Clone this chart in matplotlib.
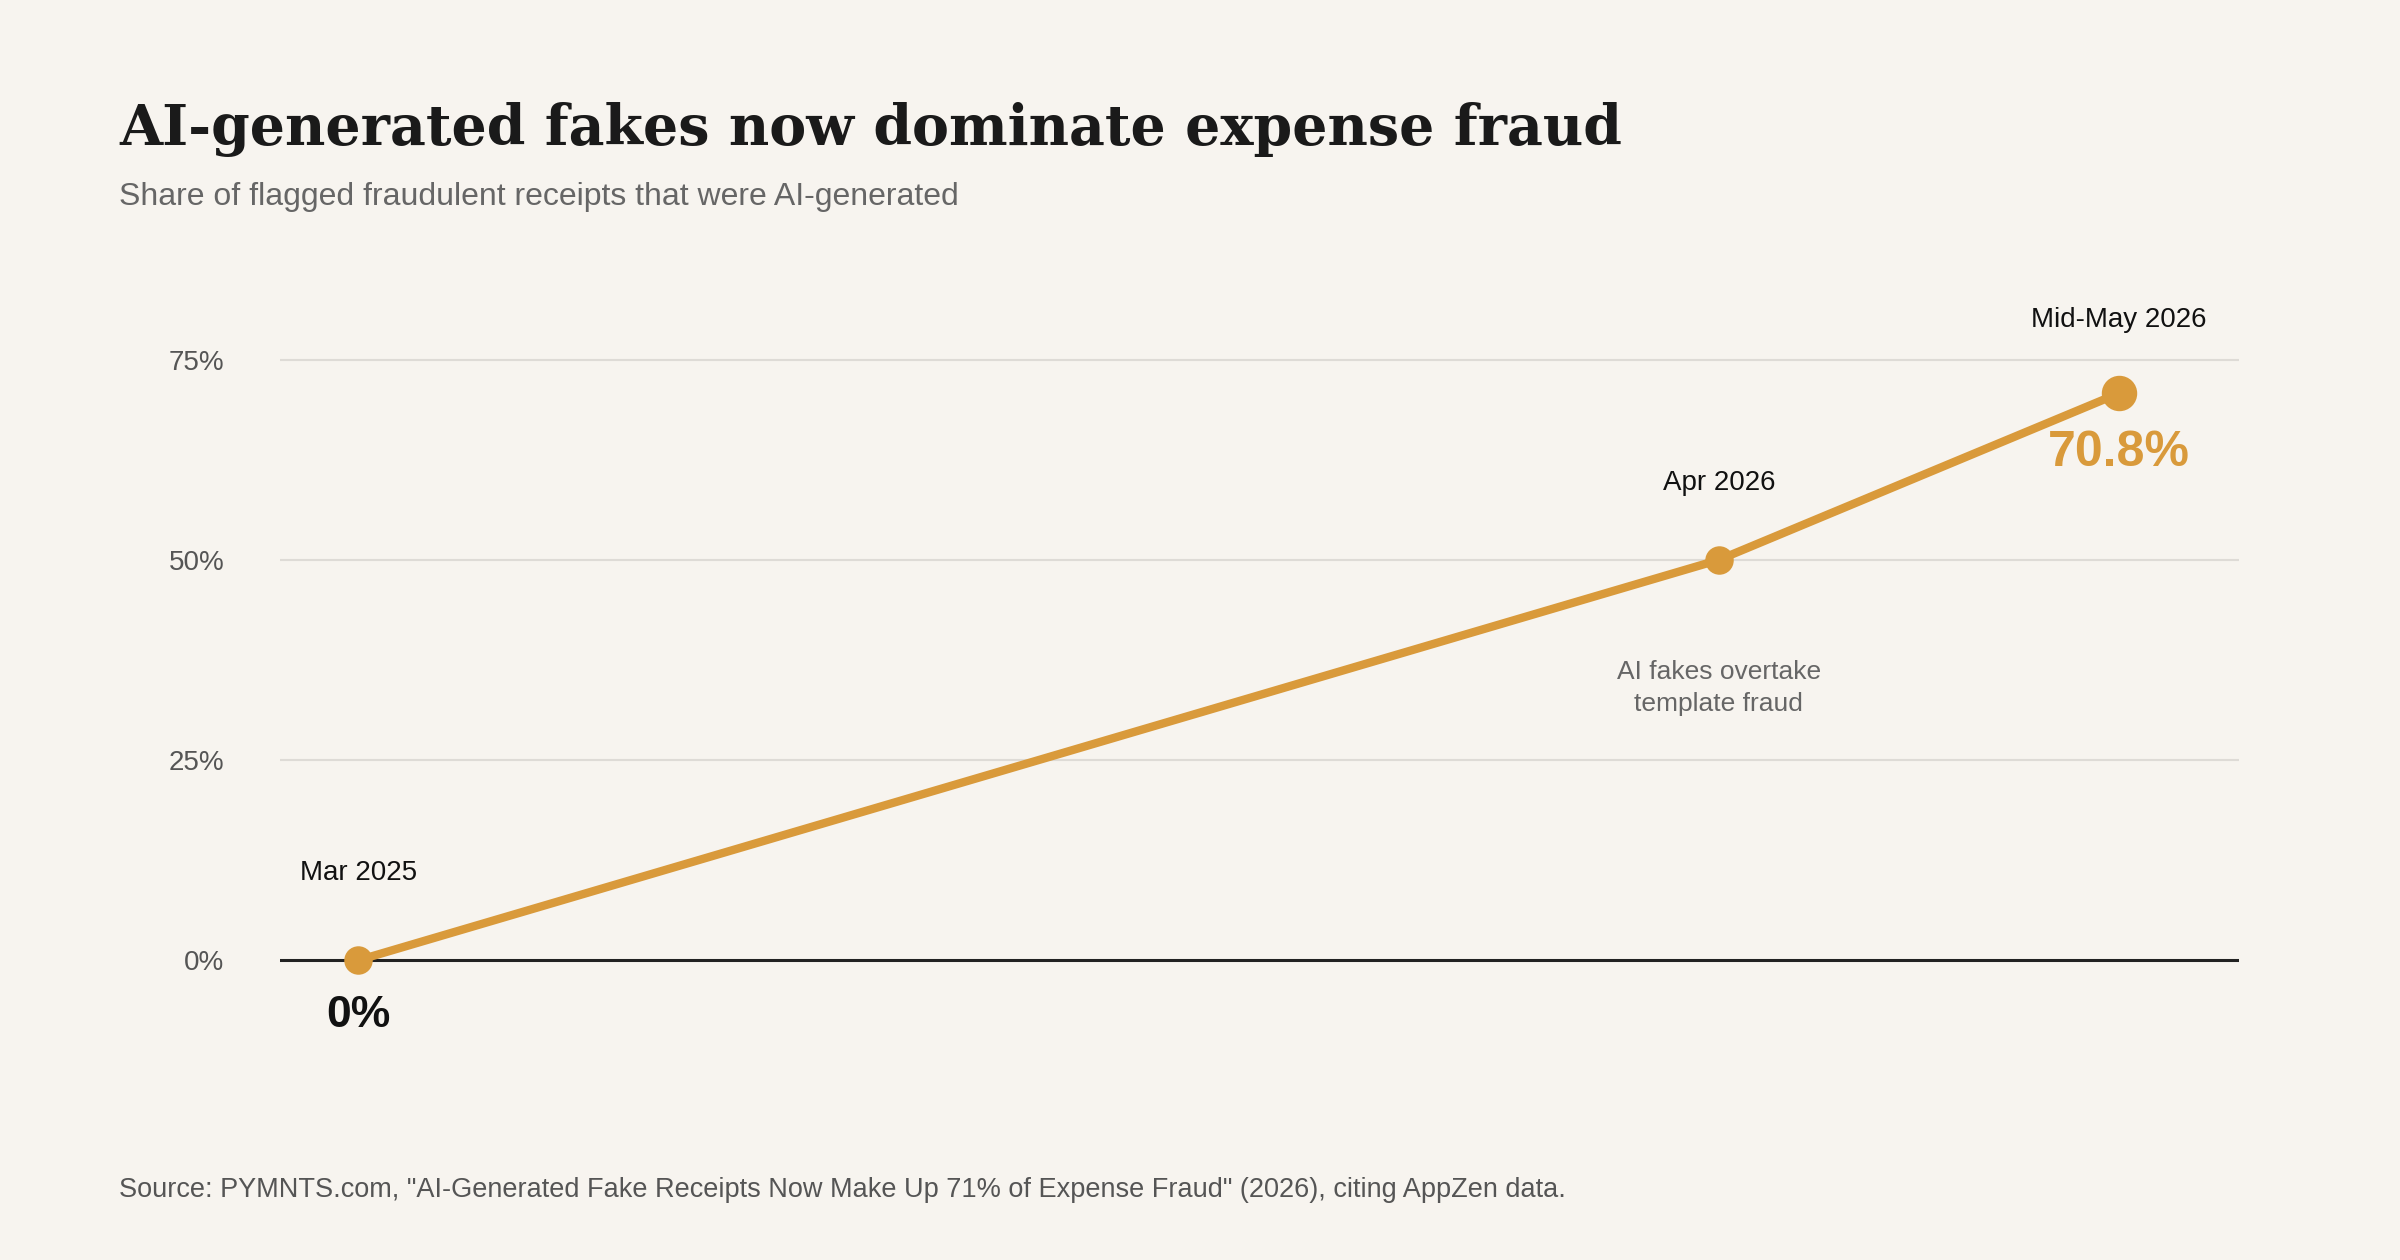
import matplotlib
matplotlib.use("Agg")
import matplotlib.pyplot as plt

plt.rcParams['font.family'] = ['Liberation Sans', 'DejaVu Sans']

periods = ["Mar 2025", "Apr 2026", "Mid-May 2026"]
values = [0.0, 50.0, 70.8]
x_index = [0.0, 1.0, 1.294]
yticks = [0, 25, 50, 75]
ytick_labels = ["0%", "25%", "50%", "75%"]

bg = "#f7f4ef"
orange = "#d99a3b"
fig = plt.figure(figsize=(24, 12.6), dpi=100, facecolor=bg)
ax = fig.add_axes([0.1167, 0.1616, 0.8163, 0.5974], facecolor=bg)
ax.set_xlim(-0.0574, 1.3825)
ax.set_ylim(-12, 82)
for t in yticks[1:]:
    ax.axhline(t, color="#dedbd6", lw=1.5, zorder=1)
ax.axhline(0, color="#222222", lw=2.2, zorder=2)
ax.plot(x_index, values, color=orange, lw=6, zorder=3, solid_capstyle="round")
ax.scatter(x_index[:2], values[:2], s=380, color=orange, zorder=4)
ax.scatter(x_index[2:], values[2:], s=600, color=orange, zorder=4)
for s in ax.spines.values():
    s.set_visible(False)
ax.set_xticks([])
ax.set_yticks(yticks)
ax.set_yticklabels(ytick_labels, fontsize=20, color="#555555")
ax.tick_params(axis="y", length=0, pad=40)

ax.annotate(periods[0], (x_index[0], values[0]), xytext=(0, 58), textcoords="offset points",
            ha="center", fontsize=20, color="#111111")
ax.annotate(f"{values[0]:.0f}%", (x_index[0], values[0]), xytext=(0, -48), textcoords="offset points",
            ha="center", fontsize=32, fontweight="bold", color="#111111")
ax.annotate(periods[1], (x_index[1], values[1]), xytext=(0, 50), textcoords="offset points",
            ha="center", fontsize=20, color="#111111")
ax.annotate("AI fakes overtake\ntemplate fraud", (x_index[1], values[1]), xytext=(0, -72),
            textcoords="offset points", ha="center", va="top", fontsize=19, color="#666666",
            linespacing=1.45)
ax.annotate(periods[2], (x_index[2], values[2]), xytext=(0, 48), textcoords="offset points",
            ha="center", fontsize=20, color="#111111")
ax.annotate(f"{values[2]:.1f}%", (x_index[2], values[2]), xytext=(0, -52), textcoords="offset points",
            ha="center", fontsize=36, fontweight="bold", color=orange)

fig.text(0.0497, 0.885, "AI-generated fakes now dominate expense fraud", fontsize=40,
         fontweight="bold", family="DejaVu Serif", color="#1a1a1a", va="baseline")
fig.text(0.0497, 0.837, "Share of flagged fraudulent receipts that were AI-generated", fontsize=23,
         color="#666666", va="baseline")
fig.text(0.0497, 0.05, 'Source: PYMNTS.com, "AI-Generated Fake Receipts Now Make Up 71% of Expense Fraud" (2026), citing AppZen data.',
         fontsize=19.5, color="#555555", va="baseline")
fig.savefig("out.png", dpi=100, facecolor=bg)
